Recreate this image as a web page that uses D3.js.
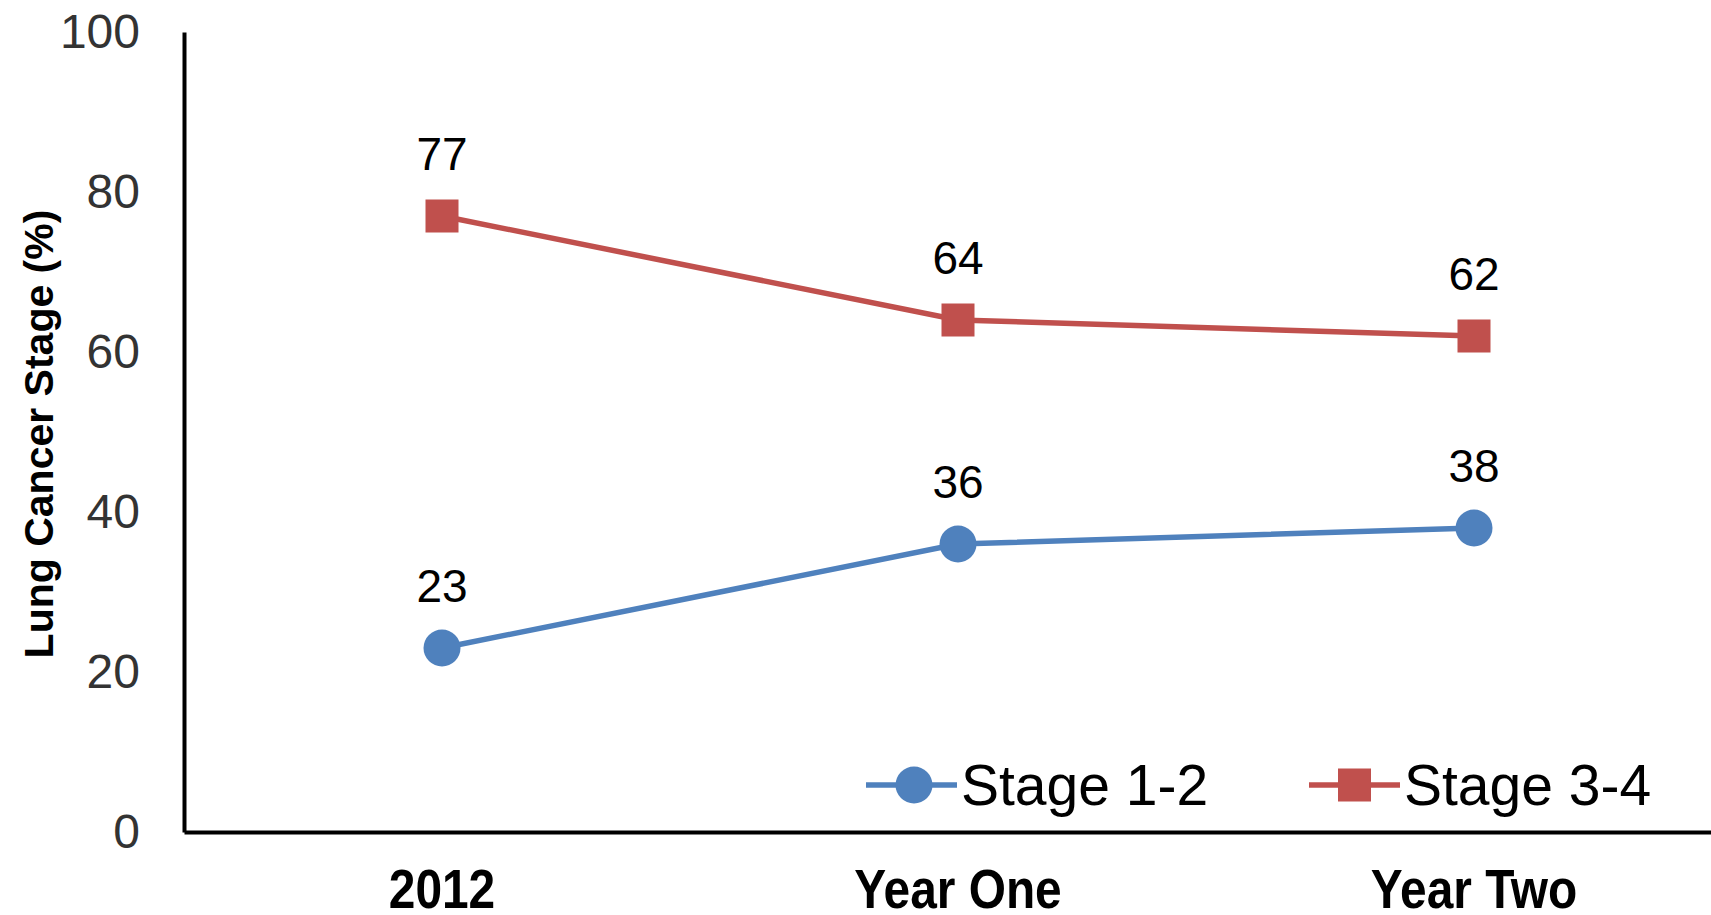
<!DOCTYPE html>
<meta charset="utf-8">
<html>
    <head>
        <script src="https://d3js.org/d3.v7.min.js"></script>
    </head>
    <style>
        body { margin: 0; background: #fff; }
        text { font-family: "Liberation Sans", Arial, sans-serif; }
    </style>
    <body>
        <div id="line_viz"></div>
        <script>

            var categories = ["2012", "Year One", "Year Two"];
            var stage12 = [23, 36, 38];
            var stage34 = [77, 64, 62];
            var yTicks = [0, 20, 40, 60, 80, 100];
            var yLabel = "Lung Cancer Stage (%)";

            var width = 1711, height = 915;

            var series = [
                { name: "Stage 1-2", values: stage12, color: "#4F81BD", shape: "circle" },
                { name: "Stage 3-4", values: stage34, color: "#C0504D", shape: "square" }
            ];

            var svg = d3.select("#line_viz")
                .append("svg")
                .attr("width", width)
                .attr("height", height)
                .attr("viewBox", [0, 0, width, height]);

            var xScale = d3.scaleBand(categories, [184, 1732]);
            var yScale = d3.scaleLinear([0, 100], [832, 32]);
            var xc = d => xScale(d) + xScale.bandwidth() / 2;

            // y axis
            svg.append("g")
                .attr("transform", "translate(184,0)")
                .call(d3.axisLeft(yScale).tickValues(yTicks).tickSize(0).tickPadding(44))
                .call(g => g.select(".domain").attr("stroke", "#000").attr("stroke-width", 4))
                .call(g => g.selectAll(".tick text")
                    .attr("font-family", "Liberation Sans, Arial, sans-serif")
                    .attr("font-size", 48)
                    .attr("fill", "#333"));

            // x axis (labels sit right at the bottom edge, as in the original)
            svg.append("g")
                .attr("transform", "translate(0,832)")
                .call(d3.axisBottom(xScale).tickSize(0).tickPadding(37))
                .call(g => g.select(".domain").attr("stroke", "#000").attr("stroke-width", 4))
                .call(g => g.selectAll(".tick text")
                    .attr("font-family", "Liberation Sans, Arial, sans-serif")
                    .attr("font-size", 55)
                    .attr("font-weight", "bold")
                    .attr("fill", "#000")
                    .attr("transform", "scale(0.87,1)"));

            // y axis title
            svg.append("text")
                .attr("transform", "translate(53,434) rotate(-90)")
                .attr("text-anchor", "middle")
                .attr("font-size", 41)
                .attr("font-weight", "bold")
                .attr("fill", "#000")
                .text(yLabel);

            var line = d3.line()
                .x((d, i) => xc(categories[i]))
                .y(d => yScale(d));

            series.forEach(s => {
                var g = svg.append("g");
                g.append("path")
                    .attr("d", line(s.values))
                    .attr("fill", "none")
                    .attr("stroke", s.color)
                    .attr("stroke-width", 5.5);

                if (s.shape === "circle") {
                    g.selectAll("circle").data(s.values).join("circle")
                        .attr("cx", (d, i) => xc(categories[i]))
                        .attr("cy", d => yScale(d))
                        .attr("r", 18.5)
                        .attr("fill", s.color);
                } else {
                    g.selectAll("rect").data(s.values).join("rect")
                        .attr("x", (d, i) => xc(categories[i]) - 16.5)
                        .attr("y", d => yScale(d) - 16.5)
                        .attr("width", 33)
                        .attr("height", 33)
                        .attr("fill", s.color);
                }

                g.selectAll(".lbl").data(s.values).join("text")
                    .attr("class", "lbl")
                    .attr("x", (d, i) => xc(categories[i]))
                    .attr("y", d => yScale(d) - 46)
                    .attr("text-anchor", "middle")
                    .attr("font-size", 46)
                    .attr("fill", "#000")
                    .text(d => d);
            });

            // legend
            var legendX = [866, 1309];
            var legend = svg.append("g").selectAll("g").data(series).join("g")
                .attr("transform", (d, i) => `translate(${legendX[i]},785)`);
            legend.append("line")
                .attr("x1", 0).attr("x2", 91)
                .attr("stroke", d => d.color)
                .attr("stroke-width", 5.5);
            legend.filter(d => d.shape === "circle").append("circle")
                .attr("cx", 48).attr("r", 18.5)
                .attr("fill", d => d.color);
            legend.filter(d => d.shape === "square").append("rect")
                .attr("x", 29).attr("y", -16.5)
                .attr("width", 33).attr("height", 33)
                .attr("fill", d => d.color);
            legend.append("text")
                .attr("x", 95)
                .attr("y", 20)
                .attr("font-size", 57)
                .attr("fill", "#000")
                .text(d => d.name);

        </script>
    </body>
</html>
